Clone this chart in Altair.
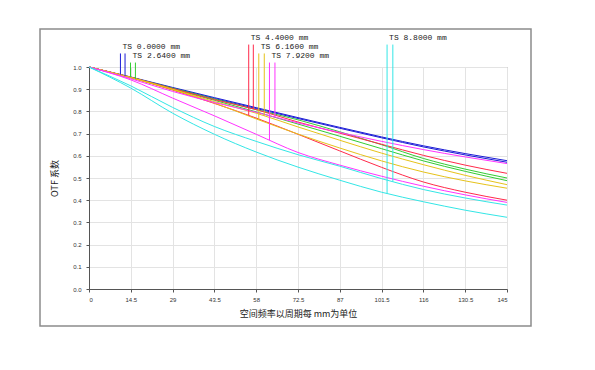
import altair as alt
import numpy as np
import pandas as pd

# spatial frequency (cycles/mm)
freq = [0, 14.5, 29, 43.5, 58, 72.5, 87, 101.5, 116, 130.5, 145]

blue_t = [1.0, 0.955, 0.908, 0.862, 0.817, 0.772, 0.728, 0.685, 0.645, 0.610, 0.578]
blue_s = [1.0, 0.953, 0.905, 0.858, 0.813, 0.768, 0.724, 0.681, 0.640, 0.604, 0.571]
green_t = [1.0, 0.954, 0.905, 0.856, 0.808, 0.762, 0.708, 0.650, 0.588, 0.540, 0.500]
green_s = [1.0, 0.952, 0.901, 0.850, 0.798, 0.743, 0.688, 0.632, 0.577, 0.530, 0.488]
red_t = [1.0, 0.952, 0.896, 0.836, 0.770, 0.697, 0.622, 0.548, 0.482, 0.436, 0.400]
red_s = [1.0, 0.954, 0.903, 0.853, 0.808, 0.752, 0.702, 0.652, 0.602, 0.558, 0.521]
yellow_t = [1.0, 0.952, 0.898, 0.838, 0.766, 0.698, 0.635, 0.577, 0.527, 0.487, 0.454]
yellow_s = [1.0, 0.953, 0.900, 0.844, 0.792, 0.730, 0.670, 0.612, 0.560, 0.512, 0.470]
magenta_t = [1.0, 0.942, 0.860, 0.780, 0.697, 0.615, 0.558, 0.508, 0.463, 0.424, 0.390]
magenta_s = [1.0, 0.947, 0.890, 0.840, 0.796, 0.748, 0.705, 0.665, 0.628, 0.595, 0.565]
cyan_t = [1.0, 0.905, 0.792, 0.697, 0.617, 0.549, 0.490, 0.436, 0.393, 0.355, 0.323]
cyan_s = [1.0, 0.915, 0.818, 0.732, 0.665, 0.605, 0.553, 0.497, 0.448, 0.410, 0.378]

fields = ["TS 0.0000 mm", "TS 2.6400 mm", "TS 4.4000 mm",
          "TS 6.1600 mm", "TS 7.9200 mm", "TS 8.8000 mm"]
field_colors = ["#1a1ad6", "#33cc33", "#ff2a4a", "#e6c21a", "#ff33ff", "#33e6e6"]
curves_t = [blue_t, green_t, red_t, yellow_t, magenta_t, cyan_t]
curves_s = [blue_s, green_s, red_s, yellow_s, magenta_s, cyan_s]

# label marker positions (frequency of T marker, S marker) and label row
marker_t = [10.9, 14.4, 55.4, 58.9, 62.6, 103.4]
marker_s = [12.5, 16.1, 57.0, 60.8, 64.5, 105.4]
label_row = [1, 2, 0, 1, 2, 0]
row_text_y = [1.132, 1.091, 1.051]
row_mark_top = [1.101, 1.061, 1.020]

x_ticks = [0, 14.5, 29, 43.5, 58, 72.5, 87, 101.5, 116, 130.5, 145]
y_ticks = [0.0, 0.1, 0.2, 0.3, 0.4, 0.5, 0.6, 0.7, 0.8, 0.9, 1.0]

rows = []
for i, fld in enumerate(fields):
    for kind, arr in (("T", curves_t[i]), ("S", curves_s[i])):
        for f, v in zip(freq, arr):
            rows.append({"f": f, "v": v, "curve": f"{fld} {kind}", "field": fld})
lines_df = pd.DataFrame(rows)

mrows = []
for i, fld in enumerate(fields):
    top = row_mark_top[label_row[i]]
    for mf, arr in ((marker_t[i], curves_t[i]), (marker_s[i], curves_s[i])):
        mrows.append({"f": mf, "top": top, "bot": float(np.interp(mf, freq, arr)), "field": fld})
marks_df = pd.DataFrame(mrows)

labels_df = pd.DataFrame({
    "f": marker_t,
    "y": [row_text_y[r] for r in label_row],
    "text": fields,
})

xs = alt.Scale(domain=[0, 145], nice=False, zero=False)
ys = alt.Scale(domain=[0, 1], nice=False)
cs = alt.Scale(domain=fields, range=field_colors)

x_axis = alt.Axis(values=x_ticks, labelExpr="'' + datum.value", labelOverlap=False,
                  title="空间频率以周期每 mm为单位",
                  grid=True, tickSize=3, labelPadding=4, titlePadding=7)
y_axis = alt.Axis(values=y_ticks, labelExpr="format(datum.value, '.1f')",
                  labelOverlap=False, title="OTF 系数",
                  grid=True, tickSize=3, labelPadding=5, titlePadding=13)

lines = alt.Chart(lines_df).mark_line(strokeWidth=1, interpolate="monotone").encode(
    x=alt.X("f:Q", scale=xs, axis=x_axis),
    y=alt.Y("v:Q", scale=ys, axis=y_axis),
    color=alt.Color("field:N", scale=cs, legend=None),
    detail="curve:N",
)

markers = alt.Chart(marks_df).mark_rule(strokeWidth=1).encode(
    x=alt.X("f:Q", scale=xs, axis=x_axis),
    y=alt.Y("top:Q", scale=ys, axis=y_axis),
    y2="bot:Q",
    color=alt.Color("field:N", scale=cs, legend=None),
)

labels = alt.Chart(labels_df).mark_text(
    align="left", baseline="middle", dx=2, font="Liberation Mono", fontSize=8, color="#222222"
).encode(
    x=alt.X("f:Q", scale=xs, axis=x_axis),
    y=alt.Y("y:Q", scale=ys, axis=y_axis),
    text="text:N",
)

frame = alt.Chart(alt.Data(values=[{}])).mark_rect(
    fill="transparent", stroke="#8c8c8c", strokeWidth=1.5
).encode(
    x=alt.value(-49), x2=alt.value(442), y=alt.value(-38), y2=alt.value(259)
)

chart = alt.layer(frame, lines, markers, labels).properties(
    width=418, height=222,
    autosize=alt.AutoSizeParams(type="none"),
    padding={"left": 81, "top": 59, "right": 60, "bottom": 45},
).configure_view(
    stroke="#999999", strokeWidth=1
).configure_axis(
    labelFont="Liberation Sans", labelFontSize=6, labelColor="#333333",
    titleFont="Noto Sans CJK SC", titleFontSize=9, titleFontWeight="normal", titleColor="#222222",
    gridColor="#e3e3e3", gridWidth=1, domainColor="#555555", tickColor="#555555",
)

chart.save("out.html", embed_options={"renderer": "svg", "actions": False})
